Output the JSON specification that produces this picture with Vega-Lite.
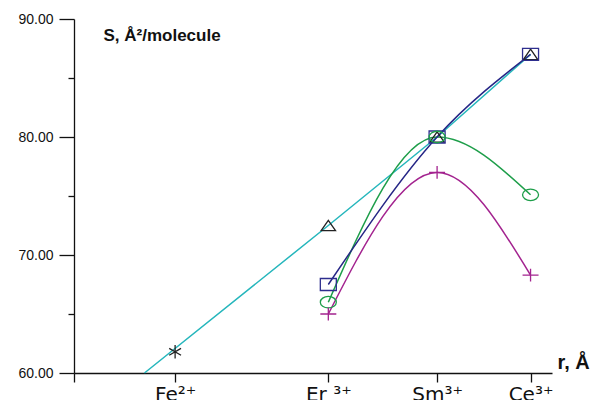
{
  "$schema": "https://vega.github.io/schema/vega-lite/v6.json",
  "autosize": {"type": "none"},
  "width": 478,
  "height": 354,
  "padding": {"left": 74, "top": 19, "right": 41, "bottom": 27},
  "background": "white",
  "config": {
    "view": {"stroke": null},
    "axis": {"grid": false, "domainColor": "#111111", "tickColor": "#111111", "domainWidth": 1.3, "tickWidth": 1.3, "labelColor": "#111111", "titleColor": "#111111"}
  },
  "data": {
    "values": [
      {"series": "cyan", "r": 0.770, "S": 60},
      {"series": "cyan", "r": 0.89, "S": 72.5, "marker": "triangle"},
      {"series": "cyan", "r": 0.961, "S": 80, "marker": "triangle"},
      {"series": "cyan", "r": 1.022, "S": 87, "marker": "triangle"},
      {"series": "fe", "r": 0.79, "S": 61.8, "marker": "star"},
      {"series": "blue", "r": 0.89, "S": 67.5, "marker": "square"},
      {"series": "blue", "r": 0.961, "S": 80, "marker": "square"},
      {"series": "blue", "r": 1.022, "S": 87, "marker": "square"},
      {"series": "green", "r": 0.89, "S": 66, "marker": "circle"},
      {"series": "green", "r": 0.961, "S": 80, "marker": "circle"},
      {"series": "green", "r": 1.022, "S": 75.1, "marker": "circle"},
      {"series": "magenta", "r": 0.89, "S": 65, "marker": "plus"},
      {"series": "magenta", "r": 0.961, "S": 77, "marker": "plus"},
      {"series": "magenta", "r": 1.022, "S": 68.3, "marker": "plus"}
    ]
  },
  "encoding": {
    "x": {
      "field": "r", "type": "quantitative",
      "scale": {"domain": [0.724, 1.036], "nice": false, "zero": false},
      "axis": {
        "values": [0.724, 0.79, 0.89, 0.961, 1.022],
        "labelExpr": "datum.value < 0.75 ? '' : datum.value < 0.8 ? 'Fe²⁺' : datum.value < 0.9 ? 'Er ³⁺' : datum.value < 1 ? 'Sm³⁺' : 'Ce³⁺'",
        "tickSize": 9,
        "labelFont": "DejaVu Sans", "labelFontSize": 20, "labelPadding": 2, "labelBaseline": "top",
        "labelFlush": false, "labelOverlap": false,
        "title": "r, Å", "titleFont": "Liberation Sans", "titleFontSize": 20, "titleFontWeight": "bold",
        "titleX": 483, "titleY": -5, "titleAlign": "left", "titleBaseline": "alphabetic"
      }
    },
    "y": {
      "field": "S", "type": "quantitative",
      "scale": {"domain": [60, 90], "nice": false, "zero": false},
      "axis": {
        "values": [60, 65, 70, 75, 80, 85, 90],
        "tickSize": {"condition": {"test": "datum.value % 10 === 0", "value": 15}, "value": 6},
        "labelExpr": "datum.value % 10 === 0 ? format(datum.value, '.2f') : ''",
        "labelFont": "Liberation Sans", "labelFontSize": 14, "labelPadding": 6,
        "title": "S, Å²/molecule", "titleAngle": 0, "titleX": 29, "titleY": 21,
        "titleAlign": "left", "titleBaseline": "alphabetic",
        "titleFont": "Liberation Sans", "titleFontSize": 17, "titleFontWeight": "bold"
      }
    }
  },
  "layer": [
    {"transform": [{"filter": "datum.series == 'cyan'"}], "mark": {"type": "line", "color": "#25B6BC", "strokeWidth": 1.5}},
    {"transform": [{"filter": "datum.series == 'green'"}], "mark": {"type": "line", "color": "#1E9E4A", "strokeWidth": 1.5, "interpolate": "monotone"}},
    {"transform": [{"filter": "datum.series == 'magenta'"}], "mark": {"type": "line", "color": "#A3238F", "strokeWidth": 1.5, "interpolate": "monotone"}},
    {"transform": [{"filter": "datum.series == 'blue'"}], "mark": {"type": "line", "color": "#262686", "strokeWidth": 1.5, "interpolate": "monotone"}},
    {
      "transform": [{"filter": "datum.marker != null"}],
      "mark": {"type": "point", "filled": false, "strokeWidth": 1.3, "size": 256, "opacity": 1},
      "encoding": {
        "shape": {"field": "marker", "type": "nominal", "legend": null,
          "scale": {"domain": ["star", "triangle", "square", "circle", "plus"],
            "range": ["M0,-0.85V0.85M-0.74,-0.43L0.74,0.43M-0.74,0.43L0.74,-0.43", "M0,-0.65L0.9,0.65L-0.9,0.65Z", "M-1,-0.75H1V0.75H-1Z", "M-1,0A1,0.72 0 1,0 1,0A1,0.72 0 1,0 -1,0Z", "M-1,0H1M0,-0.8V0.8"]}},
        "color": {"field": "marker", "type": "nominal", "legend": null,
          "scale": {"domain": ["star", "triangle", "square", "circle", "plus"],
            "range": ["#222222", "#222222", "#2E2E8E", "#1E9E4A", "#A3238F"]}}
      }
    }
  ]
}
